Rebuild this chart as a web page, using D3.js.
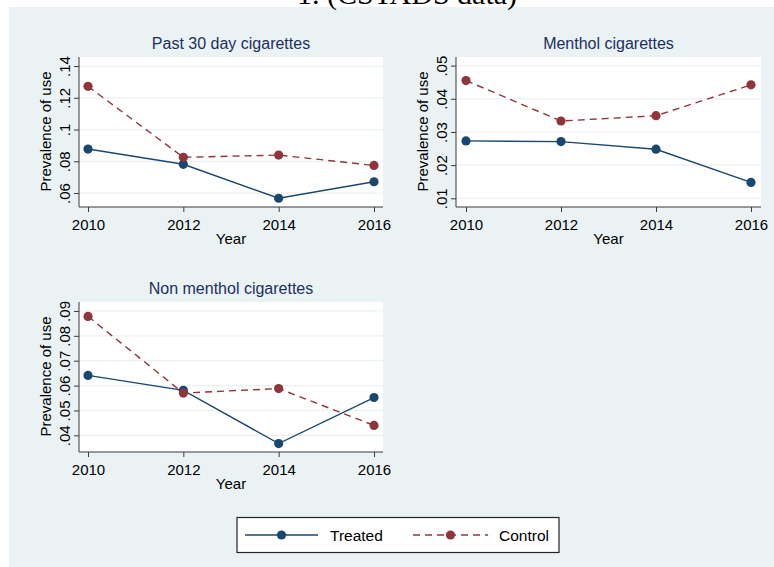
<!DOCTYPE html>
<html>
<head>
<meta charset="utf-8">
<script src="https://cdn.jsdelivr.net/npm/d3@7"></script>
<style>
  html, body { margin: 0; padding: 0; background: #ffffff; }
  svg { display: block; }
  text { font-family: "Liberation Sans", Arial, sans-serif; }
</style>
</head>
<body>
<svg id="chart" width="774" height="567"></svg>
<script>
// Survey years on the x axis
const years = [2010, 2012, 2014, 2016];

// Prevalence of use by group, one array per panel and group
const past30Treated  = [0.0877, 0.0781, 0.0567, 0.0671];
const past30Control  = [0.1272, 0.0825, 0.0839, 0.0774];
const mentholTreated = [0.0273, 0.0271, 0.0248, 0.0148];
const mentholControl = [0.0455, 0.0333, 0.0349, 0.0442];
const nonMentholTreated = [0.0641, 0.0581, 0.0367, 0.0552];
const nonMentholControl = [0.0878, 0.0570, 0.0588, 0.0440];

// Y-axis tick values per panel
const past30Ticks     = [0.06, 0.08, 0.10, 0.12, 0.14];
const mentholTicks    = [0.01, 0.02, 0.03, 0.04, 0.05];
const nonMentholTicks = [0.04, 0.05, 0.06, 0.07, 0.08, 0.09];

const panelTitles = ["Past 30 day cigarettes", "Menthol cigarettes", "Non menthol cigarettes"];
const groupNames = ["Treated", "Control"];

const COLORS = { Treated: "#1a476f", Control: "#90353b" };
const DASH = { Treated: null, Control: "7,5" };
const BG = "#eaf2f3";
const GRID = "#eaf2f3";
const AXIS = "#3a3a3a";
const TITLE = "#1c2f5e";

const svg = d3.select("#chart");

// Outer graph region
svg.append("rect").attr("x", 9).attr("y", 7).attr("width", 765).attr("height", 560).attr("fill", BG);

// Overall heading (sits above the frame)
svg.append("text")
  .attr("x", 407).attr("y", 4)
  .attr("text-anchor", "middle")
  .style("font-family", "'Liberation Serif', 'Times New Roman', serif")
  .style("font-size", "30px")
  .attr("fill", "#000")
  .text("1. (CSTADS data)");

// Stata-style tick labels: ".06", ".1"
function fmtTick(v) {
  let s = d3.format(".2f")(v);
  s = s.replace(/0+$/, "").replace(/\.$/, "");
  if (s.startsWith("0.")) s = s.slice(1);
  return s;
}

const panels = [
  { title: panelTitles[0], treated: past30Treated, control: past30Control, ticks: past30Ticks,
    left: 79, right: 383, top: 57, bottom: 207, x0: 88, x1: 374, yDomain: [0.0512, 0.1457] },
  { title: panelTitles[1], treated: mentholTreated, control: mentholControl, ticks: mentholTicks,
    left: 456, right: 761, top: 57, bottom: 207, x0: 466, x1: 751, yDomain: [0.00738, 0.0526] },
  { title: panelTitles[2], treated: nonMentholTreated, control: nonMentholControl, ticks: nonMentholTicks,
    left: 79, right: 383, top: 302, bottom: 452, x0: 88, x1: 374, yDomain: [0.0333, 0.0936] }
];

panels.forEach(p => {
  const g = svg.append("g");
  const x = d3.scaleLinear().domain([years[0], years[years.length - 1]]).range([p.x0, p.x1]);
  const y = d3.scaleLinear().domain(p.yDomain).range([p.bottom, p.top]);

  // Plot region
  g.append("rect")
    .attr("x", p.left).attr("y", p.top)
    .attr("width", p.right - p.left).attr("height", p.bottom - p.top)
    .attr("fill", "#ffffff");

  // Horizontal grid lines
  g.selectAll(".grid").data(p.ticks).join("line")
    .attr("x1", p.left).attr("x2", p.right)
    .attr("y1", d => y(d)).attr("y2", d => y(d))
    .attr("stroke", GRID).attr("stroke-width", 1.2);

  // Y axis
  const yAxis = d3.axisLeft(y).tickValues(p.ticks).tickSize(5).tickPadding(3).tickFormat(fmtTick);
  const ya = g.append("g").attr("transform", `translate(${p.left},0)`).call(yAxis);
  ya.select(".domain").attr("stroke", AXIS).attr("d", `M-0,${p.top}V${p.bottom}`);
  ya.selectAll(".tick line").attr("stroke", AXIS);
  ya.selectAll(".tick text")
    .attr("fill", "#000")
    .style("font-size", "15px")
    .attr("x", null).attr("dy", null)
    .attr("text-anchor", "middle")
    .attr("transform", "translate(-14,0) rotate(-90)")
    .attr("dy", "0.35em");

  // X axis
  const xAxis = d3.axisBottom(x).tickValues(years).tickSize(5).tickPadding(7).tickFormat(d3.format("d"));
  const xa = g.append("g").attr("transform", `translate(0,${p.bottom})`).call(xAxis);
  xa.select(".domain").attr("stroke", AXIS).attr("d", `M${p.left},0H${p.right}`);
  xa.selectAll(".tick line").attr("stroke", AXIS);
  xa.selectAll(".tick text").attr("fill", "#000").style("font-size", "15px");

  // Axis titles
  const cx = (p.left + p.right) / 2;
  g.append("text").attr("x", cx).attr("y", p.bottom + 37)
    .attr("text-anchor", "middle").style("font-size", "15px").attr("fill", "#000").text("Year");
  g.append("text")
    .attr("transform", `translate(${p.left - 28},${(p.top + p.bottom) / 2 - 0.5}) rotate(-90)`)
    .attr("text-anchor", "middle").style("font-size", "15px").attr("fill", "#000")
    .text("Prevalence of use");

  // Panel title
  g.append("text").attr("x", cx).attr("y", p.top - 8.5)
    .attr("text-anchor", "middle").style("font-size", "16px").attr("fill", TITLE).text(p.title);

  // Series
  const line = d3.line().x((d, i) => x(years[i])).y(d => y(d));
  [["Treated", p.treated], ["Control", p.control]].forEach(([name, vals]) => {
    g.append("path").datum(vals)
      .attr("d", line).attr("fill", "none")
      .attr("stroke", COLORS[name]).attr("stroke-width", 1.4)
      .attr("stroke-dasharray", DASH[name]);
    g.selectAll(null).data(vals).join("circle")
      .attr("cx", (d, i) => x(years[i])).attr("cy", d => y(d))
      .attr("r", 4.6).attr("fill", COLORS[name]);
  });
});

// Legend
const lg = svg.append("g");
lg.append("rect").attr("x", 237).attr("y", 517.5).attr("width", 322).attr("height", 35)
  .attr("fill", "#ffffff").attr("stroke", "#222").attr("stroke-width", 1.2);
const legendItems = [
  { name: groupNames[0], x1: 245, x2: 318, tx: 330 },
  { name: groupNames[1], x1: 413, x2: 488, tx: 499 }
];
legendItems.forEach(it => {
  lg.append("line").attr("x1", it.x1).attr("x2", it.x2).attr("y1", 535).attr("y2", 535)
    .attr("stroke", COLORS[it.name]).attr("stroke-width", 1.4)
    .attr("stroke-dasharray", DASH[it.name]);
  lg.append("circle").attr("cx", (it.x1 + it.x2) / 2).attr("cy", 535).attr("r", 4.6)
    .attr("fill", COLORS[it.name]);
  lg.append("text").attr("x", it.tx).attr("y", 540.5).style("font-size", "15.5px")
    .attr("fill", "#000").text(it.name);
});
</script>
</body>
</html>
